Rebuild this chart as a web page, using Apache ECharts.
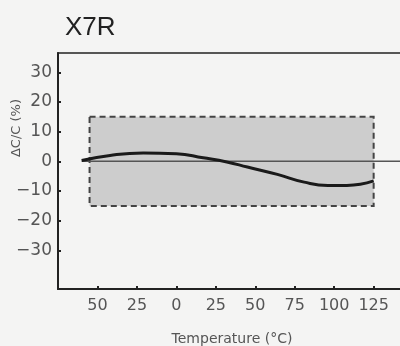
<!DOCTYPE html>
<html>
<head>
<meta charset="utf-8">
<script src="https://cdn.jsdelivr.net/npm/echarts@6/dist/echarts.min.js"></script>
<style>
  html, body { margin: 0; padding: 0; background: #f4f4f3; }
  #chart { width: 400px; height: 346px; }
</style>
</head>
<body>
<div id="chart"></div>
<script>
// capacitance change curve (temp in °C, change in %)
const curveTemps = [-60, -42, -21, 0, 17, 32, 45, 64, 81, 96, 108, 125];
const curveValues = [0.3, 2.0, 2.8, 2.6, 1.2, -0.2, -1.9, -4.4, -7.0, -8.1, -8.1, -6.6];

// X7R spec window
const specTemps = [-55, 125];
const specLimits = [15, -15];

const zeroLineTemps = [-60, 160];

const xTicks = [-50, -25, 0, 25, 50, 75, 100, 125];
const yTicks = [-30, -20, -10, 0, 10, 20, 30];

const INK = '#222';
const LABEL = '#555';

const chart = echarts.init(document.getElementById('chart'));

chart.setOption({
  backgroundColor: '#f4f4f3',
  animation: false,
  title: {
    text: 'X7R',
    left: 60,
    top: 10,
    textStyle: { fontFamily: 'Liberation Sans', fontSize: 26, fontWeight: 'normal', color: INK },
  },
  grid: {
    left: 58,
    top: 53,
    right: -21,
    bottom: 57,
    show: true,
    borderColor: INK,
    borderWidth: 1.5,
    backgroundColor: 'transparent',
    outerBoundsMode: 'none',
  },
  xAxis: {
    type: 'value',
    min: -75,
    max: 155,
    axisLine: { onZero: false, lineStyle: { color: INK, width: 2 } },
    axisTick: { inside: true, length: 3, customValues: xTicks, lineStyle: { color: INK, width: 2 } },
    axisLabel: {
      customValues: xTicks,
      margin: 9,
      color: LABEL,
      fontFamily: 'DejaVu Sans',
      fontSize: 16,
      formatter: (v) => String(Math.abs(v)),
    },
    splitLine: { show: false },
  },
  yAxis: {
    type: 'value',
    min: -43,
    max: 36.5,
    axisLine: { onZero: false, lineStyle: { color: INK, width: 2 } },
    axisTick: { inside: true, length: 3, customValues: yTicks, lineStyle: { color: INK, width: 2 } },
    axisLabel: {
      customValues: yTicks,
      margin: 6,
      color: LABEL,
      fontFamily: 'DejaVu Sans',
      fontSize: 17,
      formatter: (v) => (v < 0 ? '\u2212' + Math.abs(v) : String(v)),
    },
    splitLine: { show: false },
  },
  graphic: [
    {
      type: 'text',
      x: 17,
      y: 128,
      rotation: Math.PI / 2,
      style: {
        text: '\u0394C/C (%)',
        fill: LABEL,
        font: '13px "DejaVu Sans"',
        textAlign: 'center',
        textVerticalAlign: 'middle',
      },
    },
    {
      type: 'text',
      x: 232,
      y: 339,
      style: {
        text: 'Temperature (°C)',
        fill: LABEL,
        font: '14px "DejaVu Sans"',
        textAlign: 'center',
        textVerticalAlign: 'middle',
      },
    },
  ],
  series: [
    {
      name: 'spec',
      type: 'line',
      data: [],
      markArea: {
        silent: true,
        itemStyle: {
          color: '#cdcdcd',
          borderColor: '#444',
          borderWidth: 2,
          borderType: [6, 4],
        },
        data: [[
          { coord: [specTemps[0], specLimits[0]] },
          { coord: [specTemps[1], specLimits[1]] },
        ]],
      },
      z: 1,
    },
    {
      name: 'zero',
      type: 'line',
      data: zeroLineTemps.map((t) => [t, 0]),
      showSymbol: false,
      lineStyle: { color: '#555', width: 1.5 },
      z: 2,
    },
    {
      name: 'X7R',
      type: 'line',
      data: curveTemps.map((t, i) => [t, curveValues[i]]),
      smooth: true,
      showSymbol: false,
      lineStyle: { color: '#1a1a1a', width: 3 },
      z: 3,
    },
  ],
});
</script>
</body>
</html>
